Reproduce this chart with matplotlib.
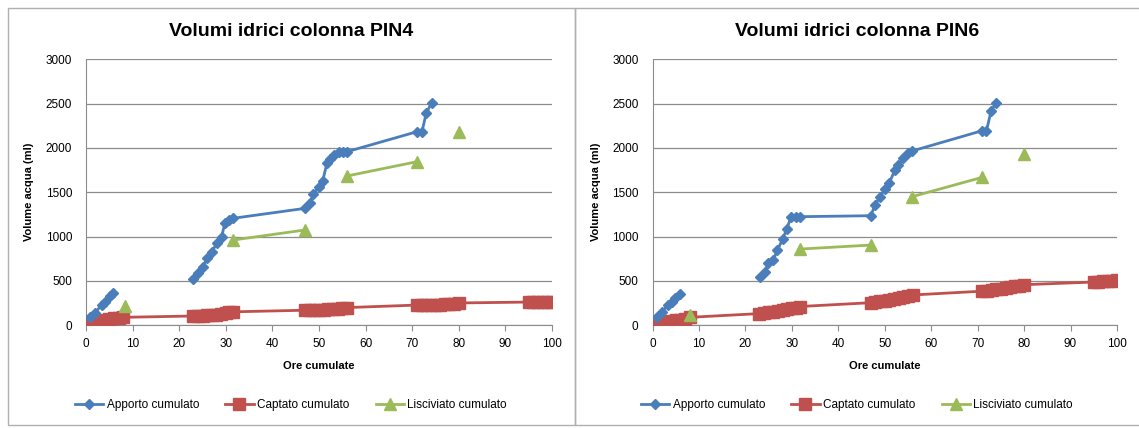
import numpy as np
import matplotlib.pyplot as plt
from matplotlib.patches import Rectangle

nan = np.nan

# PIN4 column
apporto_x4 = [0.9, 1.9, 3.4, 4.1, 5.2, 5.9, nan,
              23.0, 24.1, 25.2, 25.9, 27.0, 28.1, 29.1, 29.8, 30.6, 31.6,
              47.0, 48.0, 48.8, 49.9, 50.8, 51.7, 52.4, 53.3, 54.2, 55.1, 56.0,
              71.0, 72.1, 73.0, 74.2]
apporto_y4 = [97, 142, 229, 266, 330, 368, nan,
              519, 586, 661, 755, 830, 925, 1000, 1150, 1188, 1207,
              1319, 1376, 1477, 1563, 1631, 1827, 1872, 1921, 1951, 1958, 1958,
              2183, 2183, 2391, 2511]
captato_x4 = [0.5, 1, 2, 3, 4, 5, 6, 7, 8,
              23, 24, 25, 26, 27, 28, 29, 30, 30.6, 31.6,
              47, 48, 49, 50, 51, 52, 53, 54, 55, 56,
              71, 72, 73, 74, 75, 76, 77, 78, 79, 80,
              95, 96, 97, 98, 99, 100]
captato_y4 = [5, 20, 35, 50, 60, 70, 78, 85, 90,
              105, 108, 110, 112, 115, 120, 125, 135, 145, 152,
              170, 172, 174, 176, 178, 180, 182, 185, 190, 200,
              228, 229, 230, 231, 232, 233, 235, 237, 240, 252,
              262, 263, 264, 265, 266, 267]
lisciviato_x4 = [8.4, nan, 31.6, 47.0, nan, 56.0, 71.0, nan, 80.0]
lisciviato_y4 = [218, nan, 962, 1075, nan, 1684, 1845, nan, 2183]

# PIN6 column
apporto_x6 = [0.9, 2.0, 3.4, 4.1, 4.8, 5.9, nan,
              23.1, 24.2, 24.9, 26.0, 26.9, 28.0, 28.9, 29.8, 30.8, 31.8,
              47.0, 47.9, 49.0, 50.0, 51.0, 52.2, 52.9, 54.0, 54.9, 55.9,
              71.0, 71.9, 72.9, 74.0]
apporto_y6 = [97, 153, 229, 266, 304, 353, nan,
              548, 604, 699, 736, 849, 970, 1086, 1218, 1225, 1225,
              1236, 1357, 1451, 1534, 1608, 1752, 1808, 1883, 1940, 1966,
              2195, 2195, 2417, 2511]
captato_x6 = [0.5, 1, 2, 3, 4, 5, 6, 7, 8,
              23, 24, 25, 26, 27, 28, 29, 30, 30.8, 31.8,
              47, 48, 49, 50, 51, 52, 53, 54, 55, 56,
              71, 72, 73, 74, 75, 76, 77, 78, 79, 80,
              95, 96, 97, 98, 99, 100]
captato_y6 = [5, 15, 25, 35, 45, 55, 65, 75, 90,
              132, 138, 145, 152, 160, 170, 180, 190, 200, 212,
              255, 262, 270, 278, 287, 296, 305, 315, 328, 342,
              385, 392, 400, 408, 415, 422, 430, 438, 447, 458,
              488, 492, 496, 500, 505, 510]
lisciviato_x6 = [8.1, nan, 31.8, 47.0, nan, 55.9, 71.0, nan, 80.0]
lisciviato_y6 = [116, nan, 860, 905, nan, 1451, 1669, nan, 1932]

titles = ["Volumi idrici colonna PIN4", "Volumi idrici colonna PIN6"]
labels = ["Apporto cumulato", "Captato cumulato", "Lisciviato cumulato"]

BLUE = "#4a7ebb"
RED = "#c0504d"
GREEN = "#9bbb59"
FONT = ["Liberation Sans", "DejaVu Sans"]

W, H = 1139, 428
fig = plt.figure(figsize=(W / 100, H / 100), dpi=100)


def fx(px):
    return px / W


def fy(py):
    return 1 - py / H


# chart-area frames
for x0, x1 in [(8, 575), (575, 1145)]:
    fig.patches.append(Rectangle((fx(x0), fy(425)), fx(x1 - x0), (425 - 8) / H,
                                 transform=fig.transFigure, fill=False,
                                 edgecolor="#b0b0b0", linewidth=1.0))

panels = [
    (86, 552, 291, apporto_x4, apporto_y4, captato_x4, captato_y4,
     lisciviato_x4, lisciviato_y4),
    (652.5, 1117, 857, apporto_x6, apporto_y6, captato_x6, captato_y6,
     lisciviato_x6, lisciviato_y6),
]

for i, (left, right, center, ax_, ay_, cx_, cy_, lx_, ly_) in enumerate(panels):
    ax = fig.add_axes([fx(left), fy(325.3), fx(right - left), (325.3 - 59.3) / H])
    l1, = ax.plot(cx_, cy_, color=RED, marker="s", markersize=8, linewidth=2,
                  label=labels[1], zorder=3)
    l0, = ax.plot(ax_, ay_, color=BLUE, marker="D", markersize=5.5, linewidth=2,
                  label=labels[0], zorder=4)
    l2, = ax.plot(lx_, ly_, color=GREEN, marker="^", markersize=8, linewidth=2,
                  label=labels[2], zorder=3)

    ax.set_xlim(0, 100)
    ax.set_ylim(0, 3000)
    ax.set_xticks(range(0, 101, 10))
    ax.set_yticks(range(0, 3001, 500))
    ax.yaxis.grid(True, color="#8c8c8c", linewidth=0.9)
    ax.set_axisbelow(True)
    for s in ["top", "right"]:
        ax.spines[s].set_visible(False)
    for s in ["left", "bottom"]:
        ax.spines[s].set_color("#8c8c8c")
    ax.tick_params(axis="x", length=4, color="#8c8c8c", labelsize=8.5, pad=5)
    ax.tick_params(axis="y", length=0, labelsize=8.5, pad=10)
    for lab in ax.get_xticklabels() + ax.get_yticklabels():
        lab.set_family(FONT)

    ax.set_xlabel("Ore cumulate", fontsize=8, fontweight="bold", family=FONT,
                  labelpad=8)
    ax.set_ylabel("Volume acqua (ml)", fontsize=8, fontweight="bold", family=FONT,
                  labelpad=8)

    fig.text(fx(center), fy(31), titles[i], ha="center", va="center",
             fontsize=14, fontweight="bold", family=FONT)

    fig.legend(handles=[l0, l1, l2], loc="center",
               bbox_to_anchor=(fx(center), fy(405)), ncol=3, frameon=False,
               prop={"family": FONT, "size": 8.5}, handlelength=2.4,
               columnspacing=2.2, handletextpad=0.3)

fig.savefig("out.png", dpi=100)
